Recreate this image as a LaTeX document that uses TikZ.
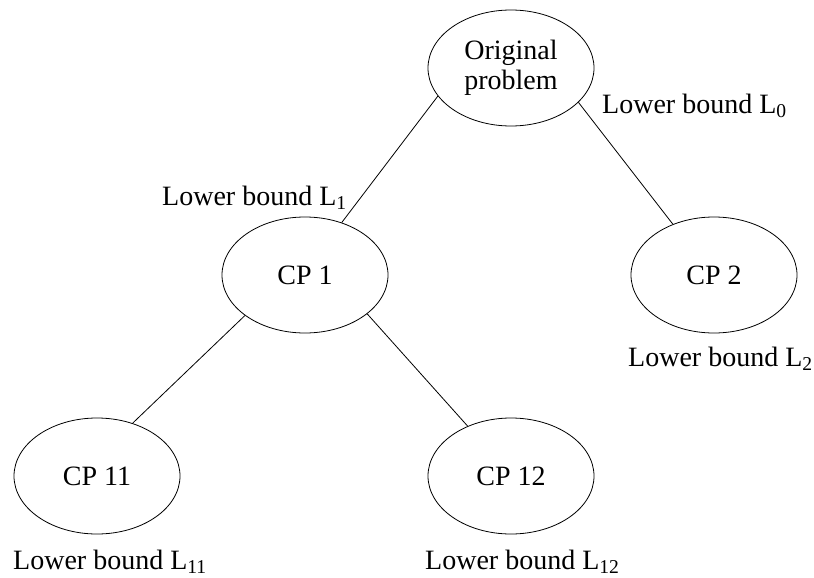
\documentclass[tikz,border=0pt]{standalone}
\usepackage{fontspec}
\setmainfont{Liberation Serif}
\usetikzlibrary{shapes.geometric}
\begin{document}
\begin{tikzpicture}[x=1pt,y=-1pt,
  every node/.style={font=\fontsize{28}{29.5}\selectfont, text=black},
  problem/.style={ellipse, draw, line width=0.8pt, minimum width=166pt,
    minimum height=116pt, inner sep=0pt, align=center},
  bound/.style={anchor=base west, inner sep=0pt},
  branch/.style={line width=0.8pt}]
  \useasboundingbox (0,0) rectangle (814,578);

  % subproblems
  \node[problem] (orig) at (511,68) {Original\\problem};
  \node[problem] (cp1)  at (305,275) {CP 1};
  \node[problem] (cp2)  at (714,275) {CP 2};
  \node[problem] (cp11) at (97,476)  {CP 11};
  \node[problem] (cp12) at (511,476) {CP 12};

  % branching edges
  \draw[branch] (orig.201) -- (cp1.55);
  \draw[branch] (orig.333) -- (cp2.129.5);
  \draw[branch] (cp1.214)  -- (cp11.56);
  \draw[branch] (cp1.328.5) -- (cp12.131);

  % bounds
  \node[bound] (l0)  at (602,113) {Lower bound L\textsubscript{0}};
  \node[bound] (l1)  at (162,205) {Lower bound L\textsubscript{1}};
  \node[bound] (l2)  at (628,366) {Lower bound L\textsubscript{2}};
  \node[bound] (l11) at (13,569)  {Lower bound L\textsubscript{11}};
  \node[bound] (l12) at (425,569) {Lower bound L\textsubscript{12}};
\end{tikzpicture}
\end{document}
